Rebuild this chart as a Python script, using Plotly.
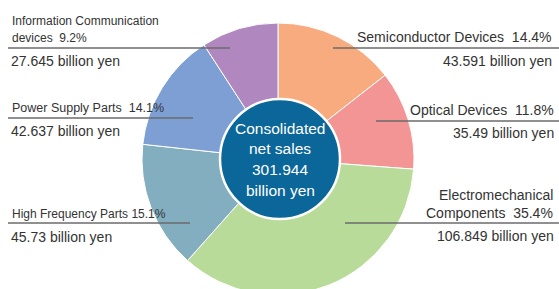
import plotly.graph_objects as go

# ---- data ----
segments = ["Semiconductor Devices", "Optical Devices", "Electromechanical Components",
            "High Frequency Parts", "Power Supply Parts", "Information Communication devices"]
sales_billion_yen = [43.591, 35.49, 106.849, 45.73, 42.637, 27.645]
share_pct = ["14.4%", "11.8%", "35.4%", "15.1%", "14.1%", "9.2%"]
colors = ["#f8ab7e", "#f49595", "#b8db9a", "#82aec0", "#7d9fd3", "#b088bf"]
total_label = "301.944"

W, H = 559, 296
fig = go.Figure()
fig.add_trace(go.Pie(
    labels=segments, values=sales_billion_yen, sort=False, direction="clockwise",
    rotation=0, marker=dict(colors=colors, line=dict(color="white", width=1)),
    textinfo="none", hoverinfo="label+value+percent", showlegend=False,
    domain=dict(x=[142 / W, 414 / W], y=[1 - 295 / H, 1 - 23 / H]),
))

LINE = "#6b6b6b"
shapes = [
    dict(type="line", x0=8, x1=230, y0=48, y1=48),
    dict(type="line", x0=333, x1=559, y0=48, y1=48),
    dict(type="line", x0=8, x1=193, y0=118, y1=118),
    dict(type="line", x0=376, x1=559, y0=121, y1=121),
    dict(type="line", x0=8, x1=190, y0=223, y1=223),
    dict(type="line", x0=345, x1=559, y0=223, y1=223),
]
for s in shapes:
    s.update(xref="x", yref="y", line=dict(color=LINE, width=1.5))
shapes.append(dict(type="circle", xref="x", yref="y", x0=220, x1=340, y0=99, y1=219,
                   fillcolor="#0b6699", line=dict(color="white", width=2.5)))

FONT = "Liberation Sans, Arial, sans-serif"
NARROW = "Liberation Sans Narrow, Arial Narrow, sans-serif"
TXT = "#333333"
ann = []
def A(x, y, text, anchor, size=13, color=TXT, family=FONT):
    ann.append(dict(x=x, y=y, xref="x", yref="y", text=text, showarrow=False,
                    xanchor=anchor, yanchor="middle",
                    font=dict(family=family, size=size, color=color)))

vals = [f"{v:g} billion yen" for v in sales_billion_yen]
# Information Communication
A(10, 21, "Information Communication", "left", 12, family=NARROW)
A(10, 38, f"devices  {share_pct[5]}", "left", 12, family=NARROW)
A(9, 61, vals[5], "left", 14)
# Semiconductor
A(554, 37, f"{segments[0]}  {share_pct[0]}", "right", 14)
A(554, 61, vals[0], "right", 14)
# Power supply
A(10, 108, f"{segments[4]}  {share_pct[4]}", "left", 12.5, family=NARROW)
A(9, 131, vals[4], "left", 14)
# Optical
A(556, 110, f"{segments[1]}  {share_pct[1]}", "right", 14)
A(556, 133, vals[1], "right", 14)
# High frequency
A(10, 214, f"{segments[3]} {share_pct[3]}", "left", 12, family=NARROW)
A(9, 237, vals[3], "left", 14)
# Electromechanical
A(555, 195, "Electromechanical", "right", 14)
A(555, 213, f"Components  {share_pct[2]}", "right", 14)
A(556, 236, vals[2], "right", 14)
# Center
for i, t in enumerate(["Consolidated", "net sales", total_label, "billion yen"]):
    A(280, 128 + i * 20.7, t, "center", 15.5, "white")

fig.update_layout(
    width=W, height=H, margin=dict(l=0, r=0, t=0, b=0),
    paper_bgcolor="white", plot_bgcolor="rgba(0,0,0,0)",
    xaxis=dict(range=[0, W], visible=False, fixedrange=True),
    yaxis=dict(range=[H, 0], visible=False, fixedrange=True),
    shapes=shapes, annotations=ann,
)
fig.write_html("out.html", config={"displayModeBar": False},
               post_script="document.body.style.margin='0';document.body.style.overflow='hidden';document.documentElement.style.overflow='hidden';")
